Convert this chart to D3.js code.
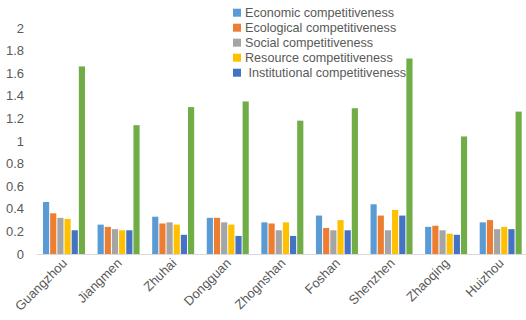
<!DOCTYPE html>
<html>
<head>
<meta charset="utf-8">
<script src="https://cdn.jsdelivr.net/npm/d3@7"></script>
<style>
  body { margin: 0; background: #fff; }
  text { font-family: "Liberation Sans", "DejaVu Sans", sans-serif; fill: #595959; }
</style>
</head>
<body>
<div id="chart"></div>
<script>
// categories and series
var cities = ["Guangzhou", "Jiangmen", "Zhuhai", "Dongguan", "Zhognshan", "Foshan", "Shenzhen", "Zhaoqing", "Huizhou"];
var seriesNames = ["Economic competitiveness", "Ecological competitiveness", "Social competitiveness", "Resource competitiveness", " Institutional competitiveness", "Total"];
var economic      = [0.46, 0.26, 0.33, 0.32, 0.28, 0.34, 0.44, 0.24, 0.28];
var ecological    = [0.36, 0.24, 0.27, 0.32, 0.27, 0.23, 0.34, 0.25, 0.30];
var social        = [0.32, 0.22, 0.28, 0.28, 0.21, 0.21, 0.21, 0.21, 0.22];
var resource      = [0.31, 0.21, 0.26, 0.26, 0.28, 0.30, 0.39, 0.18, 0.24];
var institutional = [0.21, 0.21, 0.17, 0.16, 0.16, 0.21, 0.34, 0.17, 0.22];
var total         = [1.66, 1.14, 1.30, 1.35, 1.18, 1.29, 1.73, 1.04, 1.26];
var yTicks = [0, 0.2, 0.4, 0.6, 0.8, 1, 1.2, 1.4, 1.6, 1.8, 2];

var colors = ["#5B9BD5", "#ED7D31", "#A5A5A5", "#FFC000", "#4472C4", "#70AD47"];
var allSeries = [economic, ecological, social, resource, institutional, total];

var width = 526, height = 320;
var svg = d3.select("#chart").append("svg")
  .attr("width", width)
  .attr("height", height);

// x scale for groups, inner scale for the six bars
var xScale = d3.scaleBand()
  .domain(cities)
  .range([36.7, 528])
  .paddingInner(0)
  .paddingOuter(0);

var inner = d3.scaleBand()
  .domain(d3.range(6))
  .range([6.3, 6.3 + 42])
  .paddingInner(0.14);

var yScale = d3.scaleLinear()
  .domain([0, 2])
  .range([254, 28]);

// y axis labels
var yAxis = d3.axisLeft(yScale)
  .tickValues(yTicks)
  .tickFormat(d3.format("~g"))
  .tickSize(0)
  .tickPadding(0);
svg.append("g")
  .attr("transform", "translate(24,0)")
  .call(yAxis)
  .call(function(g) { g.select(".domain").remove(); })
  .selectAll("text")
  .attr("font-size", "13px")
  .attr("font-family", "Liberation Sans, sans-serif")
  .attr("fill", "#595959");

// bars
allSeries.forEach(function(values, si) {
  svg.append("g")
    .selectAll("rect")
    .data(values)
    .enter()
    .append("rect")
    .attr("x", function(d, i) { return xScale(cities[i]) + inner(si); })
    .attr("y", function(d) { return yScale(d); })
    .attr("width", inner.bandwidth())
    .attr("height", function(d) { return yScale(0) - yScale(d); })
    .attr("fill", colors[si]);
});

// x axis line
svg.append("line")
  .attr("x1", 37).attr("x2", 526)
  .attr("y1", yScale(0) + 0.5).attr("y2", yScale(0) + 0.5)
  .attr("stroke", "#d9d9d9")
  .attr("stroke-width", 1);

// x labels, rotated
svg.append("g")
  .selectAll("text")
  .data(cities)
  .enter()
  .append("text")
  .attr("transform", function(d) {
    return "translate(" + (xScale(d) + xScale.bandwidth() / 2 + 4) + ",264) rotate(-45)";
  })
  .attr("text-anchor", "end")
  .attr("font-size", "13px")
  .text(function(d) { return d; });

// legend
var legend = svg.append("g")
  .selectAll("g")
  .data(seriesNames.slice(0, 5))
  .enter()
  .append("g")
  .attr("transform", function(d, i) { return "translate(233," + (12.7 + i * 15) + ")"; });
legend.append("rect")
  .attr("x", 0).attr("y", -4)
  .attr("width", 8).attr("height", 8)
  .attr("fill", function(d, i) { return colors[i]; });
legend.append("text")
  .attr("x", 12)
  .attr("y", 4.5)
  .attr("font-size", "12.6px")
  .attr("xml:space", "preserve")
  .style("white-space", "pre")
  .text(function(d) { return d; });
</script>
</body>
</html>
